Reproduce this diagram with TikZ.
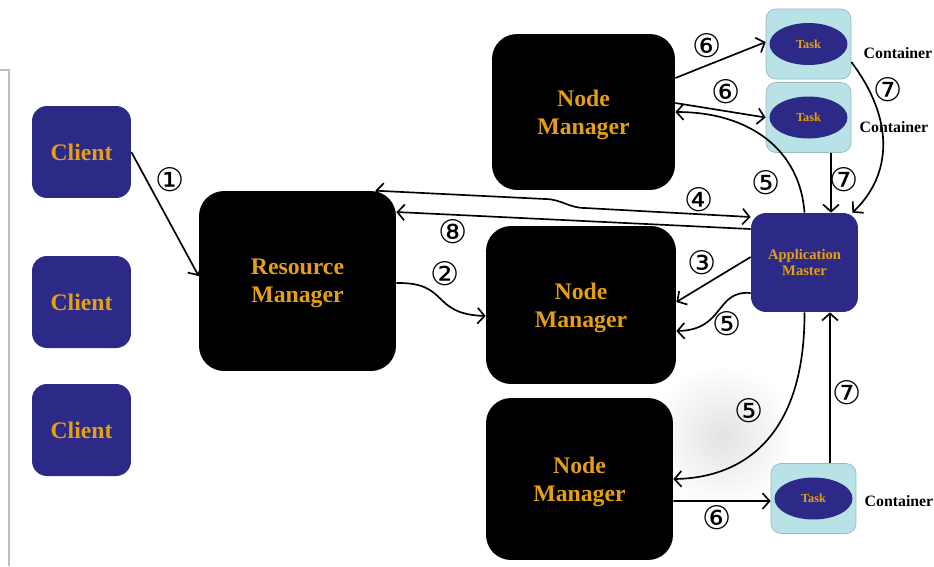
\documentclass[tikz,border=0pt]{standalone}
\usepackage{fontspec}
\setmainfont{Liberation Serif}
\newfontfamily\circfont{DejaVu Sans}
\usetikzlibrary{arrows.meta,shapes.geometric}
\definecolor{navy}{RGB}{44,42,134}
\definecolor{gold}{RGB}{228,160,18}
\definecolor{cyanbox}{RGB}{184,226,230}
\definecolor{cyanline}{RGB}{150,186,192}

\begin{document}
\begin{tikzpicture}[x=0.02cm,y=-0.02cm,
    bluebox/.style={fill=navy,rounded corners=0.3cm,text=gold,align=center,
      font=\bfseries\fontsize{13.5}{16}\selectfont},
    blackbox/.style={fill=black,rounded corners=0.5cm,text=gold,align=center,
      text depth=-5pt,font=\bfseries\fontsize{13.5}{16}\selectfont},
    cont/.style={fill=cyanbox,draw=cyanline,rounded corners=0.2cm,
      minimum width=1.7cm,minimum height=1.4cm},
    task/.style={ellipse,fill=navy,text=gold,inner sep=0pt,minimum width=1.56cm,
      minimum height=0.84cm,font=\bfseries\fontsize{7}{8}\selectfont},
    num/.style={inner sep=0pt,font=\circfont\fontsize{18.5}{18.5}\selectfont},
    lbl/.style={font=\bfseries\fontsize{9}{10}\selectfont},
    arr/.style={draw,line width=0.95pt,-{Straight Barb[length=4pt,width=9pt]}}]
  \useasboundingbox (0,0) rectangle (934,566);
  \draw[black!25,line width=0.6pt] (0,70) -- (9,70) -- (9,566);
  \shade[inner color=black!11,outer color=white] (722,436) circle (72);

  % clients and managers
  \node[bluebox,minimum width=1.98cm,minimum height=1.84cm] (C1) at (81.5,152) {Client};
  \node[bluebox,minimum width=1.98cm,minimum height=1.84cm] (C2) at (81.5,302) {Client};
  \node[bluebox,minimum width=1.98cm,minimum height=1.84cm] (C3) at (81.5,430) {Client};
  \node[blackbox,minimum width=3.94cm,minimum height=3.6cm] (RM) at (297.5,281) {Resource\\Manager};
  \node[blackbox,minimum width=3.66cm,minimum height=3.12cm] (NM1) at (583.5,112) {Node\\Manager};
  \node[blackbox,minimum width=3.8cm,minimum height=3.16cm] (NM2) at (581,305) {Node\\Manager};
  \node[blackbox,minimum width=3.74cm,minimum height=3.24cm] (NM3) at (579.5,479) {Node\\Manager};
  \node[bluebox,minimum width=2.14cm,minimum height=1.98cm,
    font=\bfseries\fontsize{8.3}{9.4}\selectfont] (AM) at (804.5,262.5) {Application\\Master};

  % containers
  \node[cont] (K1) at (808.5,44) {};
  \node[cont] (K2) at (808.5,117.5) {};
  \node[cont] (K3) at (813.5,498.5) {};
  \node[task] (T1) at (K1) {Task};
  \node[task] (T2) at (K2) {Task};
  \node[task] (T3) at (K3) {Task};
  \node[lbl] (L1) at (898,53) {Container};
  \node[lbl] (L2) at (894,127) {Container};
  \node[lbl] (L3) at (899,501) {Container};

  % steps
  \draw[arr] (C1.east) -- ([yshift=0.1cm]RM.west);
  \draw[arr] ([yshift=-0.04cm]RM.east) .. controls (450,282) and (430,314) .. ([yshift=-0.22cm]NM2.west);
  \draw[arr] ([yshift=0.11cm]AM.west) -- ([yshift=0.06cm]NM2.east);
  \draw[arr,{Straight Barb[length=4pt,width=9pt]}-{Straight Barb[length=4pt,width=9pt]}]
    ([xshift=-0.42cm]RM.north east) -- (545,199) to[out=0,in=180] (585,208) -- ([yshift=0.91cm]AM.west);
  \draw[arr] (AM.north) .. controls (800,150) and (750,112) .. (NM1.east);
  \draw[arr] ([yshift=-0.61cm]AM.west) .. controls (715,290) and (725,330) .. ([yshift=-0.52cm]NM2.east);
  \draw[arr] (AM.south) .. controls (805,440) and (740,478) .. (NM3.east);
  \draw[arr] ([yshift=0.68cm]NM1.east) -- ([yshift=0.04cm]K1.west);
  \draw[arr] ([yshift=0.18cm]NM1.east) -- (K2.west);
  \draw[arr] ([yshift=-0.44cm]NM3.east) -- ([yshift=-0.05cm]K3.west);
  \draw[arr] ([xshift=0.45cm]K2.south) -- ([xshift=0.45cm]K2.south |- AM.north);
  \draw[arr] ([yshift=-0.36cm]K1.east) .. controls (895,120) and (892,175) .. ([xshift=-0.12cm]AM.north east);
  \draw[arr] ([xshift=0.33cm]K3.north) -- ([xshift=0.33cm]K3.north |- AM.south);
  \draw[arr] ([yshift=0.67cm]AM.west) -- ([yshift=1.38cm]RM.east);

  \node[num] (N1) at (170,180) {①};
  \node[num] (N2) at (445,274) {②};
  \node[num] (N3) at (702,263) {③};
  \node[num] (N4) at (699,200) {④};
  \node[num] (N5a) at (766,183) {⑤};
  \node[num] (N5b) at (727,324) {⑤};
  \node[num] (N5c) at (749,411) {⑤};
  \node[num] (N6a) at (707,46) {⑥};
  \node[num] (N6b) at (726,92) {⑥};
  \node[num] (N6c) at (717,518) {⑥};
  \node[num] (N7a) at (888,90) {⑦};
  \node[num] (N7b) at (844,180) {⑦};
  \node[num] (N7c) at (847,393) {⑦};
  \node[num] (N8) at (453,232) {⑧};
\end{tikzpicture}
\end{document}
